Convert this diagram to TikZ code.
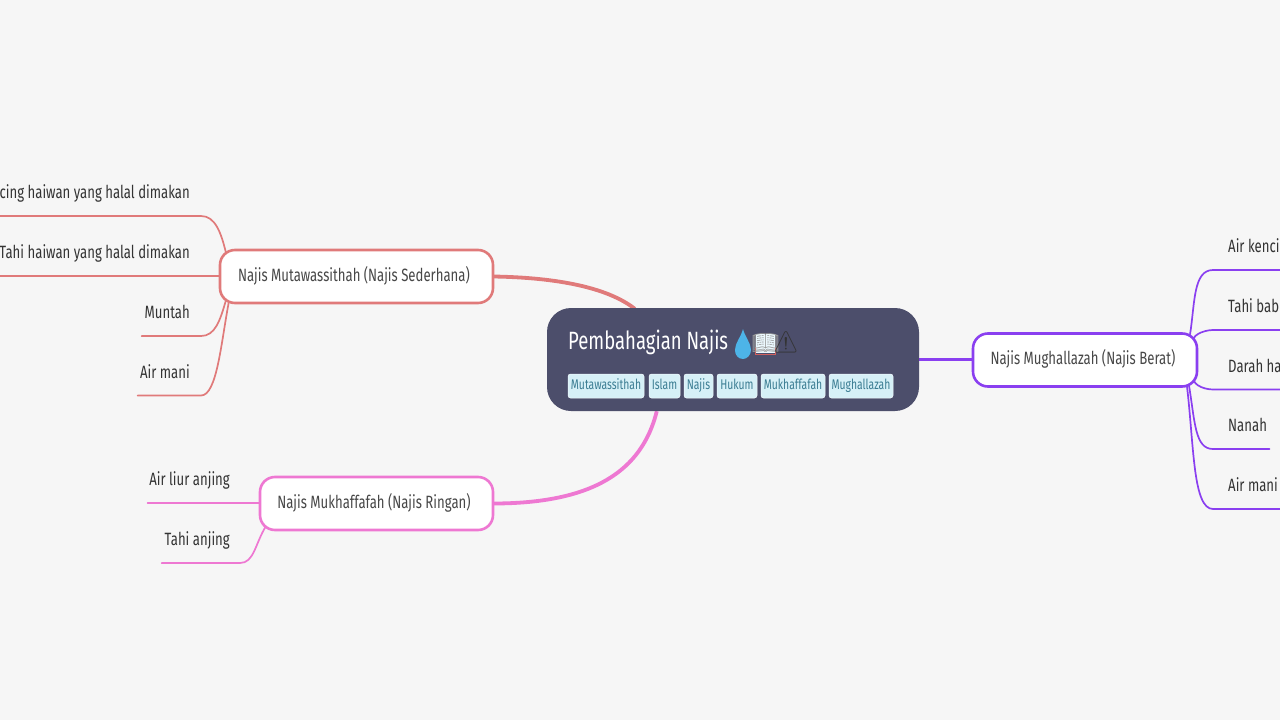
\documentclass[tikz,border=0pt]{standalone}
\usepackage{fontspec}
\setmainfont[FakeStretch=0.74]{Fira Sans}
\newfontfamily\emojifont{Noto Emoji}
\usetikzlibrary{calc,backgrounds}
\definecolor{bgc}{HTML}{F6F6F6}
\definecolor{rootc}{HTML}{4C4E6B}
\definecolor{redc}{HTML}{E07A7A}
\definecolor{pinkc}{HTML}{EE78D2}
\definecolor{purc}{HTML}{8A3FF0}
\definecolor{tagf}{HTML}{D6F0F7}
\definecolor{tagt}{HTML}{3A7C92}
\definecolor{leaft}{HTML}{333333}
\definecolor{dropc}{HTML}{4DB4E8}
\definecolor{bookr}{HTML}{D0605E}
\tikzset{
 branch/.style={draw=#1,line width=2.6pt,fill=white,rounded corners=15pt,text=black!72,font=\fontsize{17.8}{20}\selectfont,minimum height=53pt,inner sep=0pt,outer sep=0pt,text height=13pt,text depth=4pt},
 root/.style={fill=rootc,rounded corners=24pt,minimum width=372pt,minimum height=103pt,inner sep=0pt},
 tag/.style={fill=tagf,rounded corners=2.5pt,text=tagt,font=\fontsize{14}{16}\selectfont,minimum height=24pt,inner sep=0pt,draw=white!70!tagf,line width=.5pt,text height=10pt,text depth=3pt},
 leafl/.style={anchor=south east,text=leaft,font=\fontsize{17.8}{20}\selectfont,minimum height=43.5pt,inner sep=0pt,text height=13pt,text depth=4pt},
 leafr/.style={leafl,anchor=south west},
 stem/.style={draw=#1,line width=1.7pt,line cap=round},
 trunk/.style={draw=#1,line width=3.8pt},
}
\newcommand{\lefttext}[3]{\makebox[#1pt][r]{#3\hspace*{#2pt}}}
\newcommand{\righttext}[3]{\makebox[#1pt][l]{\hspace*{#2pt}#3}}
\begin{document}
\begin{tikzpicture}[x=1pt,y=-1pt]
\clip (0,0) rectangle (1280,720);
% root
\node[root] (root) at (733,359.5) {};
\node[anchor=west,text=white,font=\fontsize{25}{28}\selectfont,inner sep=0pt,text height=18pt,text depth=6pt] (title) at (568,343) {Pembahagian Najis};
\fill[dropc] (743,329) .. controls (745,337) and (751,343) .. (751,350) .. controls (751,355) and (747,359) .. (743,359) .. controls (738,359) and (735,355) .. (735,350) .. controls (735,343) and (741,337) .. (743,329);
\fill[white!92!cyan] (756,334) rectangle (775,353);
\draw[bookr,line width=1pt] (755.5,347) -- (755.5,354) -- (775.5,354) -- (775.5,347);
\node[anchor=center,inner sep=0pt,font=\emojifont\fontsize{22}{26}\selectfont,text=black!40] (book) at (765.5,343) {📖};
\node[anchor=center,inner sep=0pt,font=\emojifont\fontsize{21}{26}\selectfont,text=black!80] (warn) at (786,342) {⚠};
\foreach \n/\xa/\xb/\t in {t1/568/644/Mutawassithah,t2/649/680/Islam,t3/684/713/Najis,t4/717/757/Hukum,t5/761/825/Mukhaffafah,t6/829/893/Mughallazah}{
  \pgfmathsetmacro\w{\xb-\xa}\pgfmathsetmacro\c{(\xa+\xb)/2}
  \node[tag,minimum width=\w pt] (\n) at (\c,386) {\t};
}
% branches
\node[branch=redc,minimum width=273pt] (mut) at (356.5,276.5) {Najis Mutawassithah (Najis Sederhana)\hspace*{5pt}};
\node[branch=pinkc,minimum width=233pt] (muk) at (376.5,503.5) {Najis Mukhaffafah (Najis Ringan)\hspace*{5pt}};
\node[branch=purc,minimum width=224pt] (mug) at (1085,360) {Najis Mughallazah (Najis Berat)\hspace*{4pt}};
% left leaves
\node[leafl] (a1) at (201,216) {\lefttext{280}{11}{Air kencing haiwan yang halal dimakan}};
\node[leafl] (a2) at (201,276) {\lefttext{280}{11}{Tahi haiwan yang halal dimakan}};
\node[leafl] (a3) at (201,336) {\lefttext{59}{11}{Muntah}};
\node[leafl] (a4) at (201,395.5) {\lefttext{63}{11}{Air mani}};
\node[leafl] (b1) at (260,503) {\lefttext{112}{30}{Air liur anjing}};
\node[leafl] (b2) at (240,563) {\lefttext{78}{10}{Tahi anjing}};
% right leaves
\node[leafr] (c1) at (1213,270) {\righttext{120}{15}{Air kencing}};
\node[leafr] (c2) at (1213,330) {\righttext{120}{15}{Tahi babi}};
\node[leafr] (c3) at (1213,389.5) {\righttext{120}{15}{Darah haiwan}};
\node[leafr] (c4) at (1213,449) {\righttext{56}{15}{Nanah}};
\node[leafr] (c5) at (1213,509) {\righttext{120}{15}{Air mani}};
\begin{scope}[on background layer]
\fill[bgc] (0,0) rectangle (1280,720);
\draw[trunk=redc] (mut.east) .. controls +(65,1) and ($(root.north)+(-125,-20)$) .. ($(root.north west)+(88,1)$);
\draw[trunk=pinkc] (muk.east) .. controls +(100,0) and ($(root.south west)+(95,60)$) .. ($(root.south west)+(110,0)$);
\draw[trunk=purc] (root.east) -- (root.east -| mug.west);
% red
\draw[stem=redc] (a1.south west) -- (a1.south east) .. controls +(14,0) and ($(mut.north west)+(1,-18)$) .. ($(mut.north west)+(6,3)$);
\draw[stem=redc] (a2.south west) -- (a2.south east -| mut.west);
\draw[stem=redc] (a3.south west) -- (a3.south east) .. controls +(14,0) and ($(mut.south west)+(0,18)$) .. ($(mut.south west)+(6,-3)$);
\draw[stem=redc] (a4.south west) -- (a4.south east) .. controls +(16,0) and ($(mut.south west)+(1,40)$) .. ($(mut.south west)+(9,-2)$);
% pink
\draw[stem=pinkc] (b1.south west) -- (b1.south east -| muk.west);
\draw[stem=pinkc] (b2.south west) -- (b2.south east) .. controls +(14,0) and ($(muk.south west)+(-5,14)$) .. ($(muk.south west)+(6,-4)$);
% purple
\draw[stem=purc] (c1.south east) -- (c1.south west) .. controls +(-20,0) and ($(mug.north east)+(-2,-30)$) .. ($(mug.north east)+(-7,1)$);
\draw[stem=purc] (c2.south east) -- (c2.south west) .. controls +(-10,0) and ($(mug.north east)+(-8,3)$) .. ($(mug.north east)+(-2,9)$);
\draw[stem=purc] (c3.south east) -- (c3.south west) .. controls +(-10,0) and ($(mug.south east)+(-8,-3)$) .. ($(mug.south east)+(-2,-12)$);
\draw[stem=purc] (c4.south east) -- (c4.south west) .. controls +(-18,0) and ($(mug.south east)+(-2,36)$) .. ($(mug.south east)+(-8,-1)$);
\draw[stem=purc] (c5.south east) -- (c5.south west) .. controls +(-20,0) and ($(mug.south east)+(-3,60)$) .. ($(mug.south east)+(-10,0)$);
\end{scope}
\end{tikzpicture}
\end{document}
